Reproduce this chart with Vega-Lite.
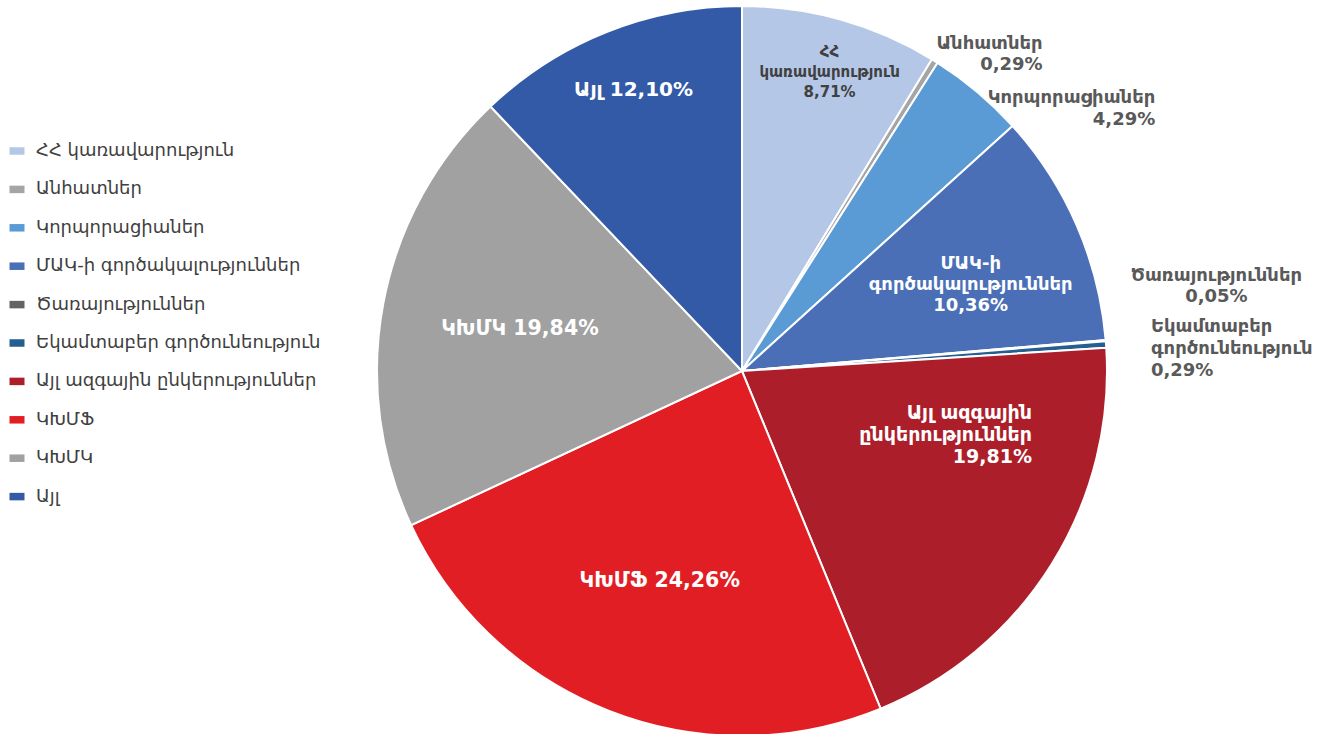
{
  "$schema": "https://vega.github.io/schema/vega-lite/v6.json",
  "width": 1484,
  "height": 742,
  "autosize": "none",
  "padding": 0,
  "background": "white",
  "data": {
    "values": [
      {"idx": 1, "name": "ՀՀ կառավարություն", "value": 8.71, "label": "ՀՀ\nկառավարություն\n8,71%"},
      {"idx": 2, "name": "Անհատներ", "value": 0.29, "label": "Անհատներ\n0,29%"},
      {"idx": 3, "name": "Կորպորացիաներ", "value": 4.29, "label": "Կորպորացիաներ\n4,29%"},
      {"idx": 4, "name": "ՄԱԿ-ի գործակալություններ", "value": 10.36, "label": "ՄԱԿ-ի\nգործակալություններ\n10,36%"},
      {"idx": 5, "name": "Ծառայություններ", "value": 0.05, "label": "Ծառայություններ\n0,05%"},
      {"idx": 6, "name": "Եկամտաբեր գործունեություն", "value": 0.29, "label": "Եկամտաբեր\nգործունեություն\n0,29%"},
      {"idx": 7, "name": "Այլ ազգային ընկերություններ", "value": 19.81, "label": "Այլ ազգային\nընկերություններ\n19,81%"},
      {"idx": 8, "name": "ԿԽՄՖ", "value": 24.26, "label": "ԿԽՄՖ 24,26%"},
      {"idx": 9, "name": "ԿԽՄԿ", "value": 19.84, "label": "ԿԽՄԿ 19,84%"},
      {"idx": 10, "name": "Այլ", "value": 12.10, "label": "Այլ 12,10%"}
    ]
  },
  "encoding": {
    "theta": {"field": "value", "type": "quantitative", "stack": true},
    "order": {"field": "idx", "type": "quantitative"}
  },
  "layer": [
    {
      "mark": {"type": "arc", "outerRadius": 365, "stroke": "white", "strokeWidth": 2},
      "encoding": {
        "color": {
          "field": "name",
          "type": "nominal",
          "sort": null,
          "scale": {
            "domain": ["ՀՀ կառավարություն", "Անհատներ", "Կորպորացիաներ", "ՄԱԿ-ի գործակալություններ", "Ծառայություններ", "Եկամտաբեր գործունեություն", "Այլ ազգային ընկերություններ", "ԿԽՄՖ", "ԿԽՄԿ", "Այլ"],
            "range": ["#B4C7E7", "#A5A5A5", "#5B9BD5", "#4A6FB7", "#636363", "#255E91", "#AC1F2A", "#E21E25", "#A0A1A0", "#335AA6"]
          },
          "legend": {
            "orient": "none",
            "legendX": 8,
            "legendY": 142,
            "title": null,
            "symbolType": "M-1,-0.5H1V0.5H-1Z",
            "symbolSize": 225,
            "symbolStrokeWidth": 0,
            "labelFont": "DejaVu Sans",
            "labelFontSize": 18,
            "labelColor": "#404040",
            "labelOffset": 10,
            "rowPadding": 20.4,
            "padding": 0,
            "labelLimit": 400
          }
        }
      }
    },
    {
      "mark": {"type": "text", "radius": 226, "font": "DejaVu Sans", "fontWeight": "bold", "fontSize": 20.5, "color": "white", "align": "center", "baseline": "middle"},
      "encoding": {"text": {"condition": {"test": "datum.name === 'ԿԽՄՖ' || datum.name === 'ԿԽՄԿ'", "field": "label"}, "value": ""}}
    },
    {
      "mark": {"type": "text", "radius": 303, "dx": 4, "font": "DejaVu Sans", "fontWeight": "bold", "fontSize": 20, "color": "white", "align": "center", "baseline": "middle"},
      "encoding": {"text": {"condition": {"test": "datum.name === 'Այլ'", "field": "label"}, "value": ""}}
    },
    {
      "mark": {"type": "text", "radius": 245, "dx": 4, "dy": -9, "font": "DejaVu Sans", "fontWeight": "bold", "fontSize": 18, "lineHeight": 21, "lineBreak": "\n", "color": "white", "align": "center", "baseline": "middle"},
      "encoding": {"text": {"condition": {"test": "datum.idx === 4", "field": "label"}, "value": ""}}
    },
    {
      "mark": {"type": "text", "radius": 230, "dx": 95, "dy": -80, "font": "DejaVu Sans", "fontWeight": "bold", "fontSize": 19, "lineHeight": 22, "lineBreak": "\n", "color": "white", "align": "right", "baseline": "middle"},
      "encoding": {"text": {"condition": {"test": "datum.idx === 7", "field": "label"}, "value": ""}}
    },
    {
      "mark": {"type": "text", "radius": 313, "dx": 3, "dy": -18, "font": "DejaVu Sans", "fontWeight": "bold", "fontSize": 15, "lineHeight": 20, "lineBreak": "\n", "color": "#404040", "align": "center", "baseline": "middle"},
      "encoding": {"text": {"condition": {"test": "datum.idx === 1", "field": "label"}, "value": ""}}
    },
    {
      "mark": {"type": "text", "radius": 378, "dx": 101, "dy": -6, "font": "DejaVu Sans", "fontWeight": "bold", "fontSize": 18, "lineHeight": 21, "lineBreak": "\n", "color": "#595959", "align": "right", "baseline": "middle"},
      "encoding": {"text": {"condition": {"test": "datum.idx === 2", "field": "label"}, "value": ""}}
    },
    {
      "mark": {"type": "text", "radius": 348, "dx": 189, "dy": -7, "font": "DejaVu Sans", "fontWeight": "bold", "fontSize": 18, "lineHeight": 22, "lineBreak": "\n", "color": "#595959", "align": "right", "baseline": "middle"},
      "encoding": {"text": {"condition": {"test": "datum.idx === 3", "field": "label"}, "value": ""}}
    },
    {
      "mark": {"type": "text", "radius": 470, "dx": 6, "dy": -56, "font": "DejaVu Sans", "fontWeight": "bold", "fontSize": 18, "lineHeight": 21, "lineBreak": "\n", "color": "#595959", "align": "center", "baseline": "middle"},
      "encoding": {"text": {"condition": {"test": "datum.idx === 5", "field": "label"}, "value": ""}}
    },
    {
      "mark": {"type": "text", "radius": 410, "dy": -14, "font": "DejaVu Sans", "fontWeight": "bold", "fontSize": 18, "lineHeight": 22, "lineBreak": "\n", "color": "#595959", "align": "left", "baseline": "middle"},
      "encoding": {"text": {"condition": {"test": "datum.idx === 6", "field": "label"}, "value": ""}}
    }
  ],
  "config": {"view": {"stroke": null}}
}
